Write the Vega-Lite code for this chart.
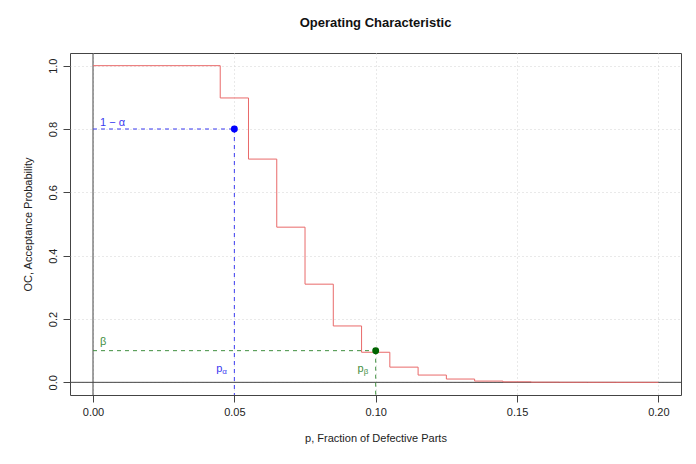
{
  "$schema": "https://vega.github.io/schema/vega-lite/v6.json",
  "width": 611,
  "height": 342,
  "autosize": {"type": "none"},
  "padding": {"left": 70, "top": 53, "right": 15, "bottom": 69},
  "config": {
    "font": "Liberation Sans",
    "view": {"stroke": "#444444", "strokeWidth": 1},
    "axis": {
      "grid": true,
      "gridColor": "#d3d3d3",
      "gridDash": [1, 3],
      "gridWidth": 1,
      "domain": false,
      "tickColor": "#444444",
      "tickSize": 7,
      "labelFontSize": 11,
      "labelColor": "#222222",
      "titleFontSize": 11,
      "titleFontWeight": "normal",
      "titleColor": "#222222"
    }
  },
  "title": {
    "text": "Operating Characteristic",
    "fontSize": 13,
    "fontWeight": "bold",
    "color": "#111111",
    "offset": 23,
    "anchor": "middle"
  },
  "datasets": {
    "oc": [
      {"p": 0.0, "oc": 1.0},
      {"p": 0.045, "oc": 0.898},
      {"p": 0.055, "oc": 0.705},
      {"p": 0.065, "oc": 0.49},
      {"p": 0.075, "oc": 0.31},
      {"p": 0.085, "oc": 0.178},
      {"p": 0.095, "oc": 0.095},
      {"p": 0.105, "oc": 0.048},
      {"p": 0.115, "oc": 0.023},
      {"p": 0.125, "oc": 0.0104},
      {"p": 0.135, "oc": 0.004},
      {"p": 0.145, "oc": 0.0015},
      {"p": 0.155, "oc": 0.0005},
      {"p": 0.165, "oc": 0.0002},
      {"p": 0.175, "oc": 0.0001},
      {"p": 0.185, "oc": 0.0},
      {"p": 0.2, "oc": 0.0}
    ],
    "refs": [
      {"p": 0.0, "p2": 0.05, "oc": 0.8, "oc2": 0.8, "kind": "alpha"},
      {"p": 0.05, "p2": 0.05, "oc": 0.8, "oc2": -0.04, "kind": "alpha"},
      {"p": 0.0, "p2": 0.1, "oc": 0.1, "oc2": 0.1, "kind": "beta"},
      {"p": 0.1, "p2": 0.1, "oc": 0.1, "oc2": -0.04, "kind": "beta"}
    ],
    "pts": [
      {"p": 0.05, "oc": 0.8, "kind": "alpha"},
      {"p": 0.1, "oc": 0.1, "kind": "beta"}
    ],
    "labels": [
      {"p": 0.0025, "oc": 0.818, "label": "1 − α", "kind": "alpha"},
      {"p": 0.0025, "oc": 0.127, "label": "β", "kind": "beta"}
    ],
    "axes0": [
      {"p": -0.00814, "p2": 0.208, "oc": 0.0, "oc2": 0.0},
      {"p": 0.0, "p2": 0.0, "oc": -0.04, "oc2": 1.04}
    ]
  },
  "layer": [
    {
      "data": {"name": "axes0"},
      "mark": {"type": "rule", "color": "#444444", "strokeWidth": 1},
      "encoding": {
        "x": {"field": "p", "type": "quantitative",
          "scale": {"domain": [-0.00814, 0.208], "nice": false, "zero": false},
          "axis": {"values": [0, 0.05, 0.1, 0.15, 0.2], "format": ".2f", "title": "p, Fraction of Defective Parts", "labelPadding": 4, "titlePadding": 15}},
        "x2": {"field": "p2"},
        "y": {"field": "oc", "type": "quantitative",
          "scale": {"domain": [-0.04, 1.04], "nice": false, "zero": false},
          "axis": {"values": [0, 0.2, 0.4, 0.6, 0.8, 1.0], "format": ".1f", "title": "OC, Acceptance Probability", "labelAngle": -90, "labelAlign": "center", "labelBaseline": "bottom", "labelPadding": 5, "titlePadding": 14}},
        "y2": {"field": "oc2"}
      }
    },
    {
      "data": {"name": "refs"},
      "mark": {"type": "rule", "strokeDash": [4, 4], "strokeWidth": 1},
      "encoding": {
        "x": {"field": "p", "type": "quantitative"},
        "x2": {"field": "p2"},
        "y": {"field": "oc", "type": "quantitative"},
        "y2": {"field": "oc2"},
        "color": {"field": "kind", "type": "nominal", "scale": {"domain": ["alpha", "beta"], "range": ["#3b3bf0", "#3f8f3f"]}, "legend": null}
      }
    },
    {
      "data": {"name": "oc"},
      "mark": {"type": "line", "interpolate": "step-after", "color": "#e96a6a", "strokeWidth": 1},
      "encoding": {
        "x": {"field": "p", "type": "quantitative"},
        "y": {"field": "oc", "type": "quantitative"}
      }
    },
    {
      "data": {"name": "pts"},
      "mark": {"type": "point", "filled": true, "size": 48, "opacity": 1, "shape": "circle"},
      "encoding": {
        "x": {"field": "p", "type": "quantitative"},
        "y": {"field": "oc", "type": "quantitative"},
        "fill": {"field": "kind", "type": "nominal", "scale": {"domain": ["alpha", "beta"], "range": ["#0000ff", "#006400"]}, "legend": null}
      }
    },
    {
      "data": {"name": "labels"},
      "mark": {"type": "text", "align": "left", "baseline": "middle", "fontSize": 11},
      "encoding": {
        "x": {"field": "p", "type": "quantitative"},
        "y": {"field": "oc", "type": "quantitative"},
        "text": {"field": "label"},
        "color": {"field": "kind", "type": "nominal", "scale": {"domain": ["alpha", "beta"], "range": ["#3b3bf0", "#3f8f3f"]}, "legend": null}
      }
    },
    {
      "data": {"name": "pts"},
      "mark": {"type": "text", "align": "right", "baseline": "middle", "fontSize": 11, "dx": -12},
      "encoding": {
        "x": {"field": "p", "type": "quantitative"},
        "y": {"datum": 0.042, "type": "quantitative"},
        "text": {"value": "p"},
        "color": {"field": "kind", "type": "nominal", "scale": {"domain": ["alpha", "beta"], "range": ["#3b3bf0", "#3f8f3f"]}, "legend": null}
      }
    },
    {
      "data": {"name": "pts"},
      "mark": {"type": "text", "align": "left", "baseline": "middle", "fontSize": 8, "dx": -12, "dy": 3},
      "encoding": {
        "x": {"field": "p", "type": "quantitative"},
        "y": {"datum": 0.042, "type": "quantitative"},
        "text": {"condition": {"test": "datum.kind === 'alpha'", "value": "α"}, "value": "β"},
        "color": {"field": "kind", "type": "nominal", "scale": {"domain": ["alpha", "beta"], "range": ["#3b3bf0", "#3f8f3f"]}, "legend": null}
      }
    }
  ]
}
